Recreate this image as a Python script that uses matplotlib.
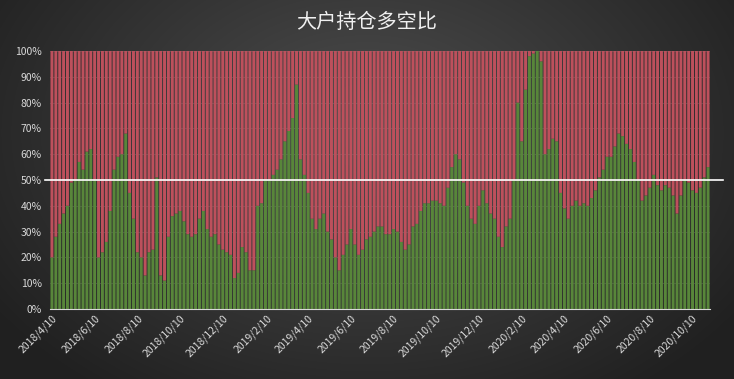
import numpy as np
import pandas as pd
import matplotlib
matplotlib.use("Agg")
import matplotlib.pyplot as plt
import matplotlib.dates as mdates
from matplotlib.ticker import FuncFormatter

plt.rcParams['font.family'] = ['Noto Sans CJK SC', 'DejaVu Sans']

title = "大户持仓多空比"
start_date = "2018-04-10"
end_date = "2020-11-02"
long_pct = [
    20, 28, 33, 37, 40, 49, 50, 57, 54, 61,
    62, 50, 20, 22, 26, 38, 54, 59, 60, 68,
    45, 35, 22, 20, 13, 22, 23, 51, 13, 11,
    28, 36, 37, 38, 34, 29, 28, 29, 35, 38,
    31, 28, 29, 25, 23, 22, 21, 12, 14, 24,
    22, 15, 15, 40, 41, 50, 50, 52, 54, 58,
    65, 69, 74, 87, 58, 52, 45, 35, 31, 35,
    37, 30, 27, 20, 15, 21, 25, 31, 25, 21,
    23, 27, 28, 30, 32, 32, 29, 29, 31, 30,
    26, 23, 25, 32, 33, 38, 41, 41, 42, 42,
    41, 40, 47, 55, 60, 58, 49, 40, 35, 33,
    40, 46, 41, 37, 35, 28, 24, 32, 35, 50,
    80, 65, 85, 98, 99, 100, 96, 60, 62, 66,
    65, 45, 39, 35, 40, 42, 40, 41, 40, 43,
    46, 51, 54, 59, 59, 63, 68, 67, 64, 62,
    57, 50, 42, 44, 47, 52, 48, 46, 48, 47,
    44, 37, 44, 50, 49, 46, 45, 47, 51, 55,
]
short_pct = [100 - v for v in long_pct]
dates = pd.date_range(start_date, end_date, periods=len(long_pct))
y_ticks = list(range(0, 101, 10))

W, H = 734, 379
fig = plt.figure(figsize=(W / 100, H / 100), dpi=100)

# background radial gradient
bg = fig.add_axes([0, 0, 1, 1], zorder=-10)
yy, xx = np.mgrid[0:H, 0:W]
r = np.sqrt(((xx - W * 0.5) / (W * 0.62)) ** 2 + ((yy - H * 0.35) / (H * 0.85)) ** 2)
r = np.clip(r, 0, 1)
c_in = np.array([78, 78, 78]) / 255
c_out = np.array([32, 32, 32]) / 255
img = c_in[None, None, :] * (1 - r[..., None]) + c_out[None, None, :] * r[..., None]
bg.imshow(img, aspect='auto', extent=[0, 1, 0, 1], origin='upper')
bg.set_axis_off()

ax = fig.add_axes([50 / W, 1 - 309 / H, 660 / W, 258 / H])
ax.set_facecolor('none')

step_days = (dates[1] - dates[0]) / pd.Timedelta(days=1)
width = step_days * 0.76
b1 = ax.bar(dates, long_pct, width=width, color='#58863a', zorder=2, linewidth=0)
b2 = ax.bar(dates, short_pct, bottom=long_pct, width=width, color='#bd505c', zorder=2, linewidth=0)
for p in list(b1) + list(b2):
    p.set_snap(False)

ax.set_ylim(0, 100)
half = pd.Timedelta(days=step_days / 2)
ax.set_xlim(dates[0] - half, dates[-1] + half)

ax.set_yticks(y_ticks)
ax.yaxis.set_major_formatter(FuncFormatter(lambda v, p: f"{int(v)}%"))
ax.grid(axis='y', color='#9a9a9a', alpha=0.35, linewidth=0.6, zorder=1)
ax.set_axisbelow(True)

ax.xaxis.set_major_locator(mdates.MonthLocator(bymonth=[2, 4, 6, 8, 10, 12], bymonthday=10))
ax.xaxis.set_major_formatter(FuncFormatter(
    lambda v, p: (lambda d: f"{d.year}/{d.month}/{d.day}")(mdates.num2date(v))))
ax.tick_params(axis='both', length=0, colors='#d9d9d9', labelsize=7.5)
ax.tick_params(axis='y', pad=6)
ax.tick_params(axis='x', pad=3)
for lab in ax.get_xticklabels():
    lab.set_rotation(45)
    lab.set_ha('right')
    lab.set_rotation_mode('anchor')

for s in ['top', 'right', 'left']:
    ax.spines[s].set_visible(False)
ax.spines['bottom'].set_color('#d9d9d9')
ax.spines['bottom'].set_linewidth(0.8)
ax.spines['bottom'].set_zorder(5)

ax.axhline(50, xmin=-5 / 660, xmax=673 / 660, color='white', linewidth=1.2, clip_on=False, zorder=6)

fig.text(0.5, 1 - 22 / H, title, ha='center', va='center', color='#f0f0f0', fontsize=14.5)

fig.savefig("out.png", dpi=100)
